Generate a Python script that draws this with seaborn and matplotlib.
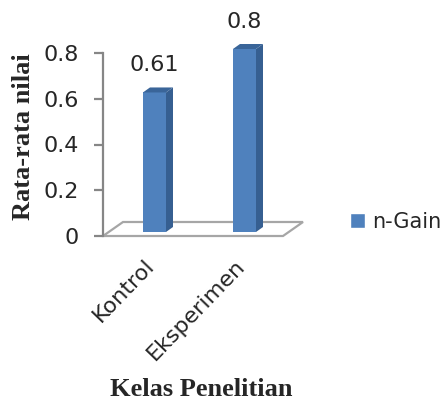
import matplotlib
matplotlib.use("Agg")
import matplotlib.pyplot as plt
from matplotlib.patches import Polygon, Patch
from matplotlib.transforms import ScaledTranslation
import seaborn as sns
import pandas as pd

# data
kelas = ["Kontrol", "Eksperimen"]
ngain = [0.61, 0.8]
y_ticks = [0, 0.2, 0.4, 0.6, 0.8]
y_tick_labels = ["0", "0.2", "0.4", "0.6", "0.8"]

df = pd.DataFrame({"Kelas": kelas, "n-Gain": ngain})

sns.set_style("white")
plt.rcParams["font.family"] = ["DejaVu Sans"]

front = "#4f81bd"
dark = "#365f91"
floor_col = "#a6a6a6"
axis_col = "#868686"

fig = plt.figure(figsize=(4.46, 4.03), dpi=100)
W, H = 446, 403
ax = fig.add_axes([103 / W, 1 - 236 / H, 180 / W, 183 / H])

sns.barplot(data=df, x="Kelas", y="n-Gain", color=front, width=0.256,
            saturation=1, ax=ax, zorder=3)

xl, xr = -0.572, 1.428
ax.set_xlim(xl, xr)
ax.set_ylim(0, 0.8)

# pixel -> data units
ux = (xr - xl) / 180
uy = 0.8 / 183

# floor of the 3d box
fdx, fdy = 20 * ux, 14 * uy
floor = Polygon([(xl, 0), (xr, 0), (xr + fdx, fdy), (xl + fdx, fdy)],
                closed=True, facecolor="white", edgecolor=floor_col,
                lw=1.6, clip_on=False, zorder=1)
ax.add_patch(floor)

# 3d faces on the bars
base = 4 * uy
dx, dy = 7 * ux, 5 * uy
for p in list(ax.patches):
    if p is floor:
        continue
    p.set_y(base)
    p.set_edgecolor("none")
    x0, w, h = p.get_x(), p.get_width(), p.get_height()
    side = Polygon([(x0 + w, base), (x0 + w + dx, base + dy),
                    (x0 + w + dx, base + h + dy), (x0 + w, base + h)],
                   closed=True, facecolor=dark, edgecolor="none",
                   clip_on=False, zorder=3)
    top = Polygon([(x0, base + h), (x0 + dx, base + h + dy),
                   (x0 + w + dx, base + h + dy), (x0 + w, base + h)],
                  closed=True, facecolor="#3a6599", edgecolor="none",
                  clip_on=False, zorder=3)
    ax.add_patch(side)
    ax.add_patch(top)
    p.set_clip_on(False)

for i, v in enumerate(ngain):
    ax.annotate(f"{v:g}", (i, v + base), xytext=(0, 27),
                textcoords="offset pixels", ha="center", va="center",
                fontsize=16, annotation_clip=False)

sns.despine(ax=ax, top=True, right=True, bottom=True)
ax.spines["left"].set_color(axis_col)
ax.spines["left"].set_linewidth(1.6)
ax.set_yticks(y_ticks)
ax.set_yticklabels(y_tick_labels, fontsize=16)
ax.tick_params(axis="y", direction="out", length=6.5, width=1.6,
               color=axis_col, pad=11, left=True)
ax.tick_params(axis="x", length=0, pad=14)
ax.set_xticks(range(len(kelas)))
ax.set_xticklabels(kelas, rotation=46, ha="right", va="top",
                   rotation_mode="anchor", fontsize=16)
shift = ScaledTranslation(-10 / 100, 0, fig.dpi_scale_trans)
for lab in ax.get_xticklabels():
    lab.set_transform(lab.get_transform() + shift)
ax.set_xlabel("")
ax.set_ylabel("")

fig.text(201 / W, 1 - 389 / H, "Kelas Penelitian", ha="center", va="center",
         fontsize=19, fontweight="bold", family="Liberation Serif")
fig.text(24 / W, 1 - 137 / H, "Rata-rata nilai", ha="center", va="center",
         rotation=90, fontsize=19, fontweight="bold", family="Liberation Serif")

ax.legend(handles=[Patch(facecolor=front, label="n-Gain")],
          loc="center left", bbox_to_anchor=(350 / W, 1 - 222 / H),
          bbox_transform=fig.transFigure, frameon=False, fontsize=15,
          handlelength=0.7, handleheight=0.7, handletextpad=0.35,
          borderpad=0, borderaxespad=0)

fig.savefig("out.png", dpi=100)
